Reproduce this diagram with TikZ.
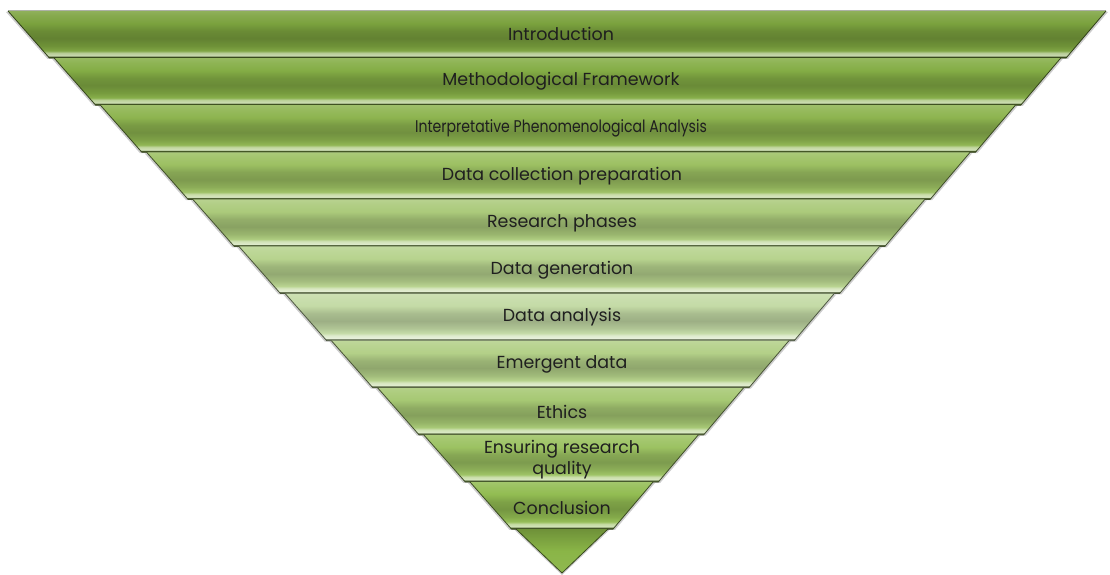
\documentclass[tikz,border=0pt]{standalone}
\usepackage{fontspec}
\setmainfont{Poppins}
\colorlet{bandc}{green!50!black}
\pgfdeclareverticalshading[bandc]{bandshade}{100bp}{%
 color(0bp)=(bandc!45!black);
 color(25bp)=(bandc!45!black);
 color(26.6bp)=(bandc!50!black);
 color(27.6bp)=(bandc!40!white);
 color(30.5bp)=(bandc!55!white);
 color(33bp)=(bandc!97!white);
 color(38bp)=(bandc!90!black);
 color(46bp)=(bandc!80!black);
 color(54bp)=(bandc!86!black);
 color(62bp)=(bandc);
 color(70bp)=(bandc!92!white);
 color(75bp)=(bandc!85!white);
 color(100bp)=(bandc!85!white)}
\tikzset{
  bandedge/.style={draw=bandc!40!black, line width=0.8pt, line join=round},
  lbl/.style={font=\fontsize{17.5}{21}\selectfont, text=black!88, inner sep=0pt, align=center},
  narrowlbl/.style={lbl, font=\fontsize{17}{21}\selectfont, xscale=0.83},
}
\begin{document}
\begin{tikzpicture}[x=1bp,y=-1bp]
\useasboundingbox (0,0) rectangle (1110,575);
\fill[white] (0,0) rectangle (1110,575);
\draw[black!30, line width=1pt] (8,10.5) -- (1106,10.5);
\foreach \i/\c in {0/7BA23E,1/84AD45,2/8DB44F,3/9CC062,4/ABCA7B,5/B7D38E,6/C4DBA6,7/B3D088,8/A6C873,9/9CC262,10/92BC52}{
  \definecolor{bandc}{HTML}{\c}
  \pgfmathsetmacro{\yt}{11+47.1*\i}
  \pgfmathsetmacro{\yb}{\yt+47.1}
  \pgfmathsetmacro{\xl}{8+46.2*\i}
  \pgfmathsetmacro{\xr}{1106-45.3*\i}
  \pgfmathsetmacro{\xlb}{\xl+41.5}
  \pgfmathsetmacro{\xrb}{\xr-40}
  \fill[black, opacity=0.2] (\xl-2,\yt+1) -- (\xlb-2,\yb+0.8) -- (\xrb+2,\yb+0.8) -- (\xr+2,\yt+1) -- cycle;
  \shade[shading=bandshade] (\xl,\yt) -- (\xlb,\yb) -- (\xrb,\yb) -- (\xr,\yt) -- cycle;
  \draw[bandedge] (\xl,\yt) -- (\xlb,\yb) -- (\xrb,\yb) -- (\xr,\yt);
}
\definecolor{bandc}{HTML}{8AB547}
\fill[black, opacity=0.2] (514,529.5) -- (562,575) -- (610,529.5) -- cycle;
\shade[top color=bandc!80!black, bottom color=bandc!95!white, middle color=bandc] (516,529) -- (562,573) -- (608,529) -- cycle;
\draw[bandedge] (516,529) -- (562,573) -- (608,529);
\node[lbl] (t0) at (561,34) {Introduction};
\node[lbl] (t1) at (561,81) {Methodological Framework};
\node[narrowlbl] (t2) at (561,128) {Interpretative Phenomenological Analysis};
\node[lbl] (t3) at (562,176) {Data collection preparation};
\node[lbl] (t4) at (562,223) {Research phases};
\node[lbl] (t5) at (562,270) {Data generation};
\node[lbl] (t6) at (562,317) {Data analysis};
\node[lbl] (t7) at (562,364) {Emergent data};
\node[lbl] (t8) at (562,412) {Ethics};
\node[lbl] (t9) at (562,460) {Ensuring research\\quality};
\node[lbl] (t10) at (562,508) {Conclusion};
\end{tikzpicture}
\end{document}
